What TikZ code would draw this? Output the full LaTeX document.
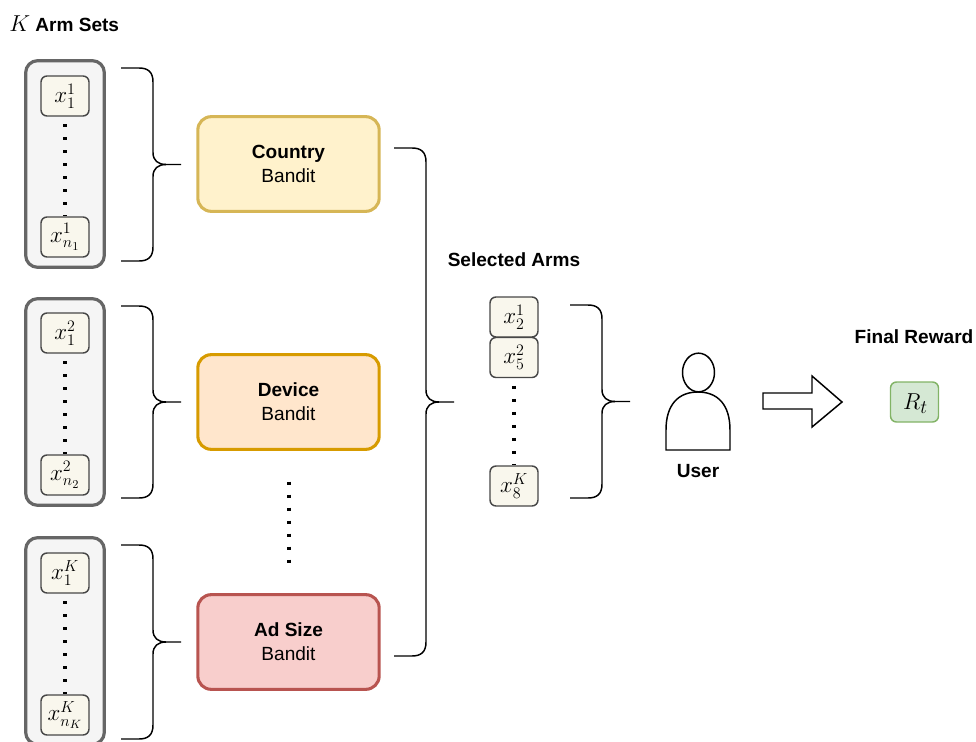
\documentclass[tikz,border=0pt]{standalone}
\usepackage{fontspec}
\usetikzlibrary{shapes.geometric}
\setmainfont{Liberation Sans}
\newcommand{\brc}[4]{% name, left x, top y, bottom y
  \coordinate (#1) at ({#2+60},{(#3+#4)/2});
  \draw[bracepath] (#2,#3) -- ({#2+18},#3)
    .. controls ({#2+27},#3) and ({#2+32},{#3+4}) .. ({#2+32},{#3+14})
    -- ({#2+32},{(#3+#4)/2-12})
    .. controls ({#2+32},{(#3+#4)/2-4}) and ({#2+37},{(#3+#4)/2}) .. ({#2+45},{(#3+#4)/2})
    -- (#1);
  \draw[bracepath] (#2,#4) -- ({#2+18},#4)
    .. controls ({#2+27},#4) and ({#2+32},{#4-4}) .. ({#2+32},{#4-14})
    -- ({#2+32},{(#3+#4)/2+12})
    .. controls ({#2+32},{(#3+#4)/2+4}) and ({#2+37},{(#3+#4)/2}) .. ({#2+45},{(#3+#4)/2});
}
\tikzset{
  x=0.75pt,y=-0.75pt,
  bracepath/.style={draw=black,line width=1.1pt},
  armset/.style={draw=black!60,fill=black!4,line width=2.4pt,rounded corners=9pt,minimum width=59pt,inner sep=0pt},
  arm/.style={draw=black!72,fill=armfill,line width=1.1pt,rounded corners=4.5pt,minimum width=36pt,minimum height=30pt,inner sep=0pt,font=\fontsize{17.5}{20}\selectfont},
  bandit/.style={line width=2.3pt,rounded corners=10pt,minimum width=136pt,minimum height=71pt,inner sep=0pt,align=center,font=\fontsize{14.3}{18}\selectfont},
  heading/.style={inner sep=0pt,font=\fontsize{14.3}{16}\selectfont\bfseries},
  dotline/.style={draw=black,line width=2.4pt,dash pattern=on 2.4pt off 7.35pt,dash phase=4.1pt},
}
\definecolor{armfill}{HTML}{F9F7ED}
\definecolor{yfill}{HTML}{FFF2CC}\definecolor{ydraw}{HTML}{D6B656}
\definecolor{ofill}{HTML}{FFE6CC}\definecolor{odraw}{HTML}{D79B00}
\definecolor{rfill}{HTML}{F8CECC}\definecolor{rdraw}{HTML}{B85450}
\definecolor{gfill}{HTML}{D5E8D4}\definecolor{gdraw}{HTML}{82B366}
\begin{document}
\begin{tikzpicture}
\useasboundingbox (0,0) rectangle (976,742);
\clip (0,0) rectangle (976,742);
% arm sets
\node[armset,minimum height=155pt] (s1) at (65,164) {};
\node[armset,minimum height=155pt] (s2) at (65,402) {};
\node[armset,minimum height=155pt] (s3) at (65,641) {};
\node[arm] (a1) at (65,96) {$x_1^1$};
\node[arm] (b1) at (65,237) {$x_{n_1}^1$};
\node[arm] (a2) at (65,333) {$x_1^2$};
\node[arm] (b2) at (65,475) {$x_{n_2}^2$};
\node[arm] (a3) at (65,573) {$x_1^K$};
\node[arm] (b3) at (65,715) {$x_{n_K}^K$};
\draw[dotline] (a1.south) -- (b1.north);
\draw[dotline] (a2.south) -- (b2.north);
\draw[dotline] (a3.south) -- (b3.north);
\brc{t1}{121}{68}{261}
\brc{t2}{121}{306}{498}
\brc{t3}{121}{545}{739}
% bandits
\node[bandit,draw=ydraw,fill=yfill] (c) at (288.5,164) {\textbf{Country}\\Bandit};
\node[bandit,draw=odraw,fill=ofill] (d) at (288.5,402) {\textbf{Device}\\Bandit};
\node[bandit,draw=rdraw,fill=rfill] (e) at (288.5,642) {\textbf{Ad Size}\\Bandit};
\coordinate (dt) at (289,474);
\coordinate (db) at (289,564);
\draw[dotline] (dt) -- (db);
\brc{t4}{394}{148}{656}
% selected
\node[heading] (h2) at (514,260) {Selected Arms};
\node[arm] (p) at (514,317) {$x_2^1$};
\node[arm] (q) at (514,357.5) {$x_5^2$};
\node[arm] (r) at (514,486) {$x_8^K$};
\draw[dotline] (q.south) -- (r.north);
\brc{t5}{570}{305}{498}
% user
\draw[line width=1.1pt,fill=white] (666,450) -- (730,450) -- (730,430)
  .. controls (730,405) and (718,392) .. (698,392)
  .. controls (678,392) and (666,405) .. (666,430) -- cycle;
\node[draw=black,line width=1.1pt,ellipse,minimum width=24pt,minimum height=29pt,inner sep=0pt,fill=white] (head) at (698.5,372.5) {};
\node[heading] (u) at (698,471) {User};
% arrow
\draw[line width=1.1pt] (763,393) -- (812,393) -- (812,376) -- (842,402) -- (812,427) -- (812,409) -- (763,409) -- cycle;
\node[heading] (h3) at (914,337) {Final Reward};
\node[arm,draw=gdraw,fill=gfill,font=\fontsize{19}{20}\selectfont,text height=13pt,text depth=2pt] (R) at (914.5,402) {\hspace{1.5pt}$R_t$};
% title
\node[heading,anchor=west] (h1) at (9,24) {\fontsize{17}{18}\selectfont$K$\fontsize{14.3}{16}\selectfont\ Arm Sets};
\end{tikzpicture}
\end{document}
